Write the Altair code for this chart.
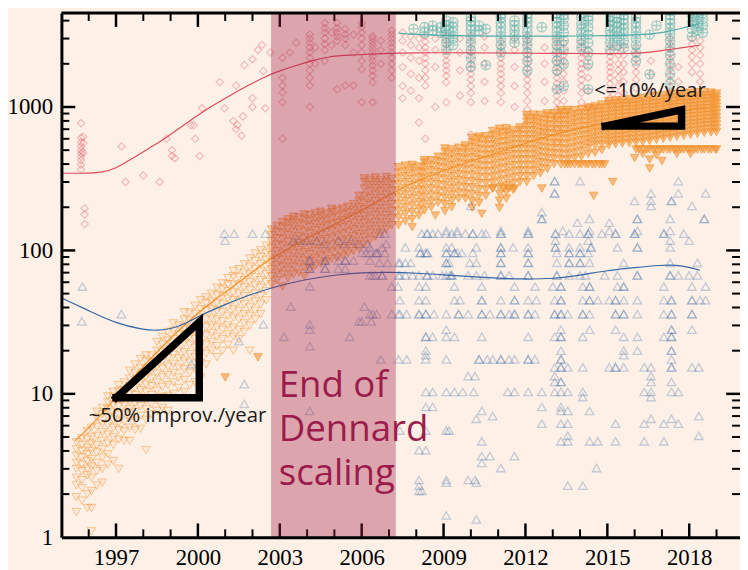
import altair as alt
import pandas as pd

# ---------------- axis values ----------------
X_LABELS = [1997, 2000, 2003, 2006, 2009, 2012, 2015, 2018]
X_MINOR = [1996, 1998, 1999, 2001, 2002, 2004, 2005, 2007, 2008, 2010, 2011,
           2013, 2014, 2016, 2017, 2019]
Y_LABELS = [1, 10, 100, 1000]
Y_MAJOR_TICKS = [10, 100, 1000]
Y_MINOR = [2, 3, 4, 5, 6, 7, 8, 9, 20, 30, 40, 50, 60, 70, 80, 90,
           200, 300, 400, 500, 600, 700, 800, 900, 2000, 3000, 4000]

DENNARD_START = [2002.68]
DENNARD_END = [2007.25]

# ---------------- red diamonds (columns: year, values) ----------------
RED_EARLY = [
    (1995.72, [366, 395, 425, 450, 475, 500, 530, 565, 610, 770]),
    (1995.8, [480, 560, 620]),
    (1995.85, [153, 178, 197]),
]
RED_SCATTER_X = [1997.2, 1997.35, 1998.0, 1998.6, 1998.85, 1999.05, 1999.05, 1999.15,
                 1999.75, 1999.85, 1999.9, 2000.07, 2000.15, 2000.8, 2000.97, 2001.3,
                 2001.4, 2001.45, 2001.6, 2001.65, 2001.4, 2001.7, 2002.0, 2002.2,
                 2002.35, 2002.4, 2002.0, 2002.0, 2002.47, 2002.65]
RED_SCATTER_Y = [531, 300, 333, 300, 600, 500, 455, 440,
                 745, 745, 600, 455, 980, 1490, 980, 800,
                 700, 750, 630, 860, 1410, 1960, 2150, 2500,
                 2700, 1780, 1150, 1000, 980, 2400]
RED_LATE = [
    (2003.1, [600, 1080, 1260, 1410, 1600, 2200]),
    (2003.37, [2400]),
    (2003.6, [2800]),
    (2004.1, [1000, 1410, 1600, 1800, 2000, 2200, 2400, 2600, 2800, 3000, 3200]),
    (2004.3, [2000, 2600]),
    (2004.65, [2100, 2500, 2750, 3000, 3300, 3550, 3850]),
    (2004.9, [2700, 3300]),
    (2005.1, [1330, 2900, 3100, 3300, 3550, 3850]),
    (2005.4, [1410, 2700, 3000, 3200, 3500]),
    (2005.7, [1410, 2400, 3200]),
    (2006.0, [1080, 1830, 2100, 2400, 2700, 3000, 3300, 3600, 3850]),
    (2006.4, [1080, 1490, 1650, 1800, 1950, 2100, 2250, 2400, 2550, 2700, 2850, 3000, 3130]),
    (2006.7, [2000, 2500, 2900]),
    (2007.1, [1600, 1800, 2000, 2200, 2400, 2600, 2800, 3000, 3200, 3400]),
    (2007.5, [1150, 1400, 1900, 2400, 2900, 3300]),
    (2007.8, [1300, 1700, 2200, 2700, 3100]),
    (2008.1, [780, 1150, 1600, 2100, 2600, 3000]),
    (2008.33, [600, 1410, 1600, 1800, 2000, 2200, 2400, 2600, 2850, 3130]),
    (2008.7, [1000, 1900, 2500, 3000]),
    (2009.1, [1080, 1490, 1650, 1800, 1950, 2100, 2300, 2500, 2700, 2900, 3130]),
    (2009.6, [1200, 1800, 2400, 3000]),
    (2010.0, [640, 1080, 1250, 1400, 1550, 1700, 1850, 2000, 2200, 2400, 2600, 2850, 3130]),
    (2010.5, [1100, 1500, 2000, 2600, 3100]),
    (2011.1, [1080, 1250, 1400, 1550, 1700, 1850, 2000, 2200, 2400, 2600, 2850]),
    (2011.6, [1000, 1400, 1900, 2500, 3000]),
    (2012.07, [960, 1100, 1250, 1400, 1550, 1700, 1850, 2000, 2150, 2300, 2500, 2700, 2900, 3130]),
    (2012.7, [700, 1100, 1500, 2000, 2600]),
    (2013.15, [570, 700, 850, 960, 1080, 1200, 1330, 1460, 1600, 1750, 1900, 2050, 2200, 2400, 2600, 2800, 3000]),
    (2013.4, [900, 1100, 1300, 1500, 1700, 1900, 2100, 2300, 2500, 2800]),
    (2014.05, [1080, 1250, 1400, 1550, 1700, 1850, 2000, 2200, 2400, 2600, 2850]),
    (2014.3, [1000, 1300, 1600, 1900, 2200, 2500]),
    (2015.1, [1150, 1300, 1450, 1600, 1750, 1900, 2050, 2250, 2450, 2650]),
    (2015.4, [1200, 1400, 1600, 1800, 2000, 2300, 2600]),
    (2015.6, [1250, 1500, 1750, 2000, 2300, 2650]),
    (2016.05, [1350, 1550, 1750, 1950, 2150, 2350, 2600]),
    (2016.6, [1300, 1700, 2100]),
    (2017.3, [1080, 1230, 1380, 1530, 1680, 1830, 1980, 2150, 2350, 2550, 2750, 3000]),
    (2017.6, [1200, 1500, 1900]),
    (2018.1, [1750, 2000, 2250, 2500, 2750, 3000]),
    (2018.4, [1500, 1700, 2000, 2300, 2600, 2900]),
]

# ---------------- teal circles-with-plus ----------------
TEAL_COLS = [
    (2007.9, [3500]), (2008.3, [3300, 3600]), (2008.6, [3400, 3700]), (2008.9, [3300, 3600]),
    (2009.1, [2500, 2800, 3100, 3400, 3700, 4000]),
    (2009.35, [2700, 3000, 3300, 3600, 3900]),
    (2010.0, [1900, 2200, 2500, 2800, 3100, 3400, 3700, 4000, 4200]),
    (2010.3, [3400, 3700]), (2010.55, [1960, 3500]),
    (2011.1, [2400, 2700, 3000, 3300, 3600, 3900, 4200, 4400]),
    (2011.6, [2800, 3100, 3400, 3700, 4000]),
    (2012.07, [1800, 2100, 2400, 2700, 3000, 3300, 3600, 3900, 4200, 4500]),
    (2012.6, [3600]),
    (2013.15, [1330, 1800, 2100, 2400, 2700, 3000, 3300, 3600, 3900, 4200, 4500]),
    (2013.4, [1400, 2000, 2500, 2900, 3300, 3700, 4100, 4400]),
    (2014.05, [2600, 2900, 3200, 3500, 3800, 4200, 4500]),
    (2014.3, [1330, 2000, 2400, 2800, 3200, 3600, 4000, 4300]),
    (2015.1, [2500, 2800, 3100, 3400, 3700, 4000, 4300]),
    (2015.35, [2700, 3000, 3300, 3600, 3900, 4200]),
    (2015.6, [2600, 2900, 3200, 3500, 3800, 4100, 4400]),
    (2016.05, [2100, 2400, 2700, 3000, 3300, 3600, 3900, 4200]),
    (2016.55, [1690, 3200]), (2016.8, [3700]),
    (2017.3, [1450, 1700, 2000, 2300, 2600, 2900, 3200, 3500, 3800, 4100, 4400, 4700]),
    (2018.1, [3100, 3500, 3900, 4300, 4700]),
    (2018.3, [3400, 3800, 4200, 4600, 4900]),
    (2018.5, [3300, 3700, 4100, 4500, 4900]),
]

# ---------------- orange downward triangles ----------------
ORANGE_EARLY = [
    (1995.55, [1.5, 1.9, 2.3, 2.6, 3.0, 3.3, 3.7, 4.1, 4.6]),
    (1995.75, [1.8, 2.2, 2.5, 2.9, 3.2, 3.6, 4.0, 4.4, 4.9]),
    (1995.95, [1.6, 2.0, 2.7, 3.0, 3.4, 3.8, 4.2, 4.8, 5.5]),
    (1996.1, [1.1, 1.6, 2.1, 2.6, 3.1, 3.5, 4.0, 4.5, 5.0, 5.8]),
    (1996.3, [2.3, 2.9, 3.3, 3.9, 4.4, 5.1, 5.9, 6.8, 7.5]),
    (1996.5, [2.4, 3.0, 3.6, 4.1, 4.7, 5.4, 6.2, 7.2, 8.0]),
    (1996.7, [3.2, 3.8, 4.5, 5.2, 6.0, 6.9, 7.8, 8.8, 9.6]),
    (1996.9, [3.4, 4.4, 5.0, 5.8, 6.6, 7.4, 8.4, 9.5, 10.3]),
    (1997.1, [3.0, 4.8, 5.6, 6.3, 7.2, 8.2, 9.2, 10.5, 11.5]),
    (1997.3, [4.7, 5.5, 6.4, 7.3, 8.3, 9.4, 10.6, 12.0]),
    (1997.5, [4.7, 5.8, 6.8, 7.8, 8.9, 10.0, 11.3, 12.8, 14.5]),
    (1997.7, [5.6, 6.5, 7.5, 8.6, 9.8, 11.0, 12.4, 14.0, 16.0]),
    (1997.9, [5.7, 7.0, 8.2, 9.4, 10.6, 12.0, 13.5, 15.2, 17.5]),
    (1998.1, [4.05, 6.6, 7.8, 9.0, 10.3, 11.6, 13.2, 15.0, 17.0, 18.5]),
    (1998.3, [7.2, 8.5, 9.8, 11.3, 12.8, 14.5, 16.5, 18.5]),
    (1998.5, [7.6, 9.0, 10.5, 12.0, 13.8, 15.6, 17.8, 20.0, 23.0]),
    (1998.7, [8.0, 9.5, 11.2, 13.0, 15.0, 17.0, 19.5, 22.0, 25.0]),
    (1998.9, [7.6, 9.7, 11.5, 13.5, 15.5, 17.8, 20.5, 23.5, 27.0]),
    (1999.1, [10.0, 12.0, 14.0, 16.2, 18.6, 21.2, 24.0, 27.5, 31.0]),
    (1999.3, [11.0, 13.0, 15.2, 17.6, 20.0, 23.0, 26.0, 30.0]),
    (1999.5, [10.3, 12.5, 14.8, 17.0, 19.5, 22.5, 25.5, 29.0, 33.0, 37.0]),
    (1999.7, [11.5, 14.0, 16.5, 19.0, 22.0, 25.0, 28.5, 32.5, 37.0]),
    (1999.9, [12.0, 15.0, 18.0, 21.0, 24.0, 27.5, 31.5, 36.0, 41.0]),
    (2000.1, [13.0, 16.5, 19.5, 22.5, 26.0, 30.0, 34.0, 39.0, 45.0]),
    (2000.3, [16.0, 19.0, 22.0, 25.5, 29.0, 33.0, 38.0, 43.0, 47.0]),
    (2000.5, [20.0, 23.0, 26.5, 30.0, 34.0, 39.0, 44.0, 50.0]),
    (2000.7, [18.0, 21.5, 25.0, 29.0, 33.0, 38.0, 43.0, 49.0, 55.0]),
    (2000.9, [20.0, 24.0, 28.0, 32.0, 37.0, 42.0, 48.0, 54.0, 59.0]),
    (2001.1, [22.0, 26.0, 30.0, 35.0, 40.0, 46.0, 52.0, 58.0, 64.0]),
    (2001.3, [20.0, 25.0, 29.0, 34.0, 39.0, 45.0, 51.0, 58.0, 66.0, 72.0]),
    (2001.5, [24.0, 28.0, 33.0, 38.0, 44.0, 50.0, 57.0, 65.0, 74.0]),
    (2001.7, [27.0, 31.0, 36.0, 42.0, 48.0, 55.0, 62.0, 70.0, 80.0]),
    (2001.9, [20.0, 30.0, 35.0, 40.0, 46.0, 53.0, 60.0, 68.0, 77.0, 88.0]),
    (2002.1, [33.0, 38.0, 44.0, 50.0, 57.0, 65.0, 74.0, 84.0, 95.0]),
    (2002.3, [36.0, 42.0, 48.0, 55.0, 62.0, 71.0, 80.0, 90.0, 100.0]),
    (2002.5, [45.0, 52.0, 60.0, 68.0, 77.0, 86.0, 96.0, 108.0]),
]
ORANGE_MID = [
    (2002.7, [58, 66, 74, 83, 93, 104, 116, 128, 140]),
    (2002.9, [62, 70, 79, 88, 99, 110, 122, 135, 148]),
    (2003.1, [56, 68, 77, 86, 96, 108, 120, 133, 146, 158]),
    (2003.3, [64, 73, 82, 92, 103, 115, 128, 142, 156, 165]),
    (2003.5, [68, 77, 86, 96, 108, 120, 134, 148, 162, 172]),
    (2003.7, [70, 80, 90, 101, 113, 126, 140, 155, 170]),
    (2003.9, [66, 76, 86, 97, 109, 122, 136, 151, 166, 178]),
    (2004.1, [74, 84, 94, 106, 118, 132, 146, 161, 176]),
    (2004.3, [78, 88, 99, 111, 124, 138, 153, 168, 182]),
    (2004.5, [81, 92, 103, 116, 129, 144, 159, 174, 186]),
    (2004.7, [84, 95, 107, 120, 134, 149, 164, 180]),
    (2004.9, [87, 98, 110, 123, 138, 153, 169, 185, 195]),
    (2005.1, [89, 101, 113, 127, 142, 157, 173, 190]),
    (2005.3, [92, 104, 117, 131, 146, 162, 179, 196]),
    (2005.5, [95, 107, 120, 135, 150, 167, 184, 202]),
    (2005.7, [99, 111, 125, 140, 156, 173, 191, 210]),
    (2005.9, [103, 116, 130, 146, 163, 181, 200, 222, 240]),
    (2006.1, [110, 124, 139, 156, 174, 194, 215, 240, 270, 300, 318]),
    (2006.3, [118, 132, 148, 166, 186, 208, 232, 258, 285, 310]),
    (2006.5, [125, 140, 157, 176, 197, 220, 245, 272, 300, 322]),
    (2006.7, [132, 148, 166, 186, 208, 232, 258, 285, 310]),
    (2006.9, [140, 157, 176, 197, 220, 245, 272, 300, 325]),
    (2007.1, [150, 168, 188, 210, 234, 260, 288, 315]),
]
ORANGE_LATE = [
    (2007.35, [150, 170, 190, 212, 236, 262, 290, 320, 350, 380]),
    (2007.6, [160, 180, 200, 222, 246, 272, 300, 330, 360, 390]),
    (2007.85, [145, 165, 186, 208, 232, 258, 286, 316, 346, 375, 395]),
    (2008.1, [175, 196, 218, 242, 268, 296, 326, 356, 385]),
    (2008.3, [190, 212, 236, 262, 290, 320, 350, 380, 410, 425]),
    (2008.55, [200, 222, 246, 272, 300, 330, 362, 395, 425]),
    (2008.8, [215, 238, 263, 290, 320, 352, 385, 420, 450]),
    (2009.05, [188, 210, 233, 258, 285, 314, 345, 378, 412, 448, 485, 514]),
    (2009.3, [200, 222, 246, 272, 300, 330, 362, 396, 432, 470, 505]),
    (2009.55, [230, 255, 282, 311, 342, 375, 410, 446, 484, 520]),
    (2009.8, [250, 276, 304, 334, 366, 400, 436, 474, 512, 540]),
    (2010.05, [198, 222, 248, 276, 306, 338, 372, 408, 446, 486, 528, 570, 610]),
    (2010.3, [215, 240, 267, 296, 327, 360, 395, 432, 471, 512, 555, 600, 621]),
    (2010.55, [240, 266, 294, 324, 356, 390, 426, 464, 504, 546, 590, 625]),
    (2010.8, [270, 298, 328, 360, 394, 430, 468, 508, 550, 594, 640, 680]),
    (2011.05, [198, 222, 248, 276, 306, 338, 372, 408, 446, 486, 528, 572, 618, 665, 705]),
    (2011.3, [230, 256, 284, 314, 346, 380, 416, 454, 494, 536, 580, 626, 672, 710]),
    (2011.55, [265, 294, 325, 358, 393, 430, 469, 510, 553, 598, 645, 690]),
    (2011.8, [300, 330, 362, 396, 432, 470, 510, 552, 596, 642, 690, 720]),
    (2012.05, [300, 330, 362, 396, 432, 470, 510, 552, 596, 642, 690, 740, 790, 840, 880]),
    (2012.3, [330, 362, 396, 432, 470, 510, 552, 596, 642, 690, 740, 790, 840, 885]),
    (2012.55, [345, 378, 413, 450, 490, 532, 576, 622, 670, 720, 772, 826, 880]),
    (2012.8, [370, 405, 442, 481, 522, 565, 610, 657, 706, 757, 810, 865, 900]),
    (2013.05, [400, 437, 476, 517, 560, 605, 652, 701, 752, 805, 860, 905]),
    (2013.3, [398, 435, 474, 515, 558, 603, 650, 699, 750, 803, 858, 915, 950]),
    (2013.55, [398, 430, 470, 512, 556, 602, 650, 700, 752, 806, 862, 920, 955]),
    (2013.8, [398, 440, 482, 526, 572, 620, 670, 722, 776, 832, 890, 950]),
    (2014.05, [398, 450, 495, 540, 587, 636, 687, 740, 795, 852, 911, 965]),
    (2014.3, [398, 470, 520, 560, 600, 645, 692, 741, 792, 845, 900, 957, 990]),
    (2014.55, [398, 480, 540, 580, 620, 665, 712, 761, 812, 865, 920, 977, 1010]),
    (2014.8, [398, 500, 550, 590, 632, 677, 724, 773, 824, 877, 932, 989, 1040]),
    (2015.05, [540, 575, 612, 652, 695, 740, 787, 836, 887, 940, 995, 1050, 1100]),
    (2015.3, [550, 585, 622, 662, 705, 750, 797, 846, 897, 950, 1005, 1062, 1110]),
    (2015.55, [556, 592, 630, 670, 713, 758, 805, 854, 905, 958, 1013, 1070, 1117]),
    (2015.8, [560, 597, 636, 677, 720, 765, 812, 861, 912, 965, 1020, 1077, 1130]),
    (2016.05, [505, 565, 603, 642, 683, 726, 771, 818, 867, 918, 971, 1026, 1083, 1140]),
    (2016.3, [470, 505, 570, 610, 650, 692, 736, 782, 830, 880, 932, 986, 1042, 1100, 1160]),
    (2016.55, [373, 430, 505, 580, 620, 660, 702, 746, 792, 840, 890, 942, 996, 1052, 1110, 1180]),
    (2016.8, [460, 505, 590, 630, 670, 712, 756, 802, 850, 900, 952, 1006, 1062, 1120, 1200]),
    (2017.05, [505, 600, 640, 681, 724, 769, 816, 865, 916, 969, 1024, 1081, 1140, 1210]),
    (2017.3, [505, 610, 650, 692, 736, 782, 830, 880, 932, 986, 1042, 1100, 1160, 1230]),
    (2017.55, [470, 505, 620, 660, 702, 746, 792, 840, 890, 942, 996, 1052, 1110, 1170, 1240]),
    (2017.8, [505, 630, 670, 712, 756, 802, 850, 900, 952, 1006, 1062, 1120, 1180, 1250]),
    (2018.05, [470, 505, 640, 680, 722, 766, 812, 860, 910, 962, 1016, 1072, 1130, 1190, 1260]),
    (2018.3, [505, 650, 690, 732, 776, 822, 870, 920, 972, 1026, 1082, 1140, 1200, 1268]),
    (2018.55, [505, 660, 700, 742, 786, 832, 880, 930, 982, 1036, 1092, 1150, 1210, 1270]),
    (2018.8, [505, 665, 705, 747, 791, 837, 885, 935, 987, 1041, 1097, 1155, 1215, 1260]),
    (2019.0, [505, 670, 712, 756, 802, 850, 900, 952, 1006, 1062, 1120, 1180, 1240]),
]
ORANGE_ROW_X = [2013.45, 2013.65, 2013.95, 2014.2, 2014.45, 2014.7, 2014.9,
                2016.15, 2016.45, 2016.7, 2016.95, 2017.2, 2017.45, 2017.7, 2017.95,
                2018.2, 2018.45, 2018.7, 2018.95]
ORANGE_ROW_Y = [398, 398, 398, 398, 398, 398, 398,
                505, 505, 505, 505, 505, 505, 505, 505,
                505, 505, 505, 505]
ORANGE_OUT_X = [2012.6, 2011.2, 2011.4, 2011.6, 2010.8, 2014.5, 2015.2, 2017.0,
                2016.0, 2009.8, 2008.7, 2010.4, 2002.2, 2001.0]
ORANGE_OUT_Y = [270, 270, 270, 270, 270, 240, 300, 420,
                440, 230, 175, 180, 18, 13]

# ---------------- blue upward triangles (rows: value, years) ----------------
BLUE_ROWS = [
    (304, [2013.07, 2014.0, 2017.6]),
    (250, [2013.07, 2016.6, 2017.6, 2018.6]),
    (221, [2016.0, 2016.6, 2017.35]),
    (204, [2010.0, 2016.6, 2018.1]),
    (185, [2012.6]),
    (166, [2012.6, 2014.35, 2016.1, 2017.3, 2018.55]),
    (156, [2013.9, 2015.07]),
    (137, [2009.1, 2009.5, 2011.1, 2012.1, 2013.37, 2014.35, 2015.07, 2016.1, 2017.3]),
    (131, [2000.97, 2001.33, 2002.0, 2002.47, 2006.67, 2006.85, 2008.2, 2008.4, 2008.6, 2008.8,
           2009.1, 2009.3, 2009.5, 2009.8, 2010.07, 2010.4, 2010.55, 2011.1, 2012.1, 2013.1,
           2013.6, 2014.0, 2014.3, 2014.8, 2015.3, 2016.0, 2017.07, 2017.8]),
    (117, [2001.0, 2003.5, 2003.7, 2004.0, 2004.35, 2005.15, 2005.6, 2013.1, 2014.3, 2017.3, 2018.0]),
    (111, [2004.64, 2005.36, 2005.9, 2006.2, 2006.9]),
    (105, [2006.3, 2006.75, 2007.6, 2008.1, 2009.1, 2009.3, 2010.2, 2011.1, 2011.55, 2012.1,
           2013.1, 2013.6, 2014.0, 2014.4, 2015.37, 2016.1, 2017.3]),
    (96, [2006.0, 2006.16, 2006.3, 2006.53, 2006.6, 2006.85, 2008.15, 2008.33, 2008.4, 2009.1,
          2009.4, 2009.5, 2009.67, 2010.07, 2011.1, 2012.1, 2013.15, 2013.6, 2014.0, 2014.3]),
    (85, [2004.1, 2004.66, 2005.14, 2005.4, 2005.7, 2006.3]),
    (82, [2006.65, 2006.95, 2007.35, 2007.4, 2007.6, 2007.8, 2009.1, 2009.2, 2009.96, 2010.2,
          2011.1, 2012.1, 2013.15, 2013.6, 2014.0, 2014.35, 2015.6, 2017.3, 2018.3]),
    (74.5, [2004.1, 2004.66, 2005.14, 2005.4]),
    (67, [2006.3, 2006.4, 2006.5, 2006.75, 2007.35, 2007.4, 2007.6, 2007.86, 2008.1, 2008.4,
          2008.6, 2008.95, 2009.1, 2009.24, 2009.3, 2009.9, 2010.2, 2010.5, 2011.1, 2011.4,
          2012.1, 2013.15, 2013.6, 2014.0, 2014.2, 2014.9, 2015.37, 2016.1, 2017.3, 2017.6,
          2018.0, 2018.3]),
    (56, [1995.77, 2004.1, 2007.1, 2007.33, 2008.1, 2008.35, 2009.4, 2010.4, 2011.6, 2012.35,
          2013.0, 2013.3, 2014.1, 2014.35, 2015.37, 2015.6, 2017.07, 2018.1, 2018.6]),
    (45, [2007.4, 2008.1, 2008.35, 2009.4, 2009.6, 2010.4, 2011.1, 2011.6, 2012.1, 2012.4,
          2013.07, 2013.3, 2014.1, 2014.35, 2014.65, 2015.07, 2015.3, 2015.6, 2016.1, 2017.07,
          2017.35, 2018.1, 2018.4, 2018.6]),
    (40.5, [2003.4, 2006.1]),
    (36, [1997.2, 2006.3, 2006.4, 2006.55, 2007.1, 2007.35, 2007.4, 2007.65, 2008.1, 2008.35,
          2008.65, 2009.1, 2009.55, 2009.9, 2010.4, 2010.7, 2011.1, 2011.4, 2011.6, 2012.1,
          2012.35, 2013.07, 2013.3, 2013.55, 2014.1, 2014.35, 2015.3, 2015.6, 2016.1, 2017.07,
          2017.35, 2018.1]),
    (32, [1995.75, 2005.9, 2006.0, 2006.35]),
    (30.5, [2002.4, 2004.1]),
    (28, [2004.1, 2009.1, 2013.3, 2014.35, 2015.3, 2017.35, 2018.1]),
    (25, [2003.15, 2005.56, 2008.35, 2008.6, 2009.1, 2009.4, 2010.4, 2012.1, 2013.07, 2013.3,
          2014.1, 2015.6, 2016.1, 2017.07, 2017.35]),
    (23.3, [2001.5]),
    (21.5, [2004.1]),
    (20, [2008.35, 2013.3, 2015.6, 2016.1, 2017.35]),
    (18.6, [2008.35, 2015.6]),
    (17.4, [2006.7, 2007.35, 2007.65, 2008.35, 2009.1, 2010.3, 2010.6, 2010.8, 2011.1, 2011.4,
            2011.6, 2012.1, 2012.35, 2013.3, 2017.35]),
    (16.1, [1999.76]),
    (15.3, [2013.07, 2013.3, 2013.55, 2014.1, 2015.07, 2015.3, 2015.6, 2016.35, 2016.6, 2017.35,
            2018.1, 2018.35]),
    (13.3, [2009.9, 2010.15, 2013.07, 2016.6]),
    (12.1, [2013.07, 2013.3, 2016.6, 2017.35]),
    (11.7, [2001.7]),
    (10.3, [2008.35, 2008.6, 2009.1, 2009.4, 2009.7, 2010.1, 2011.35, 2011.6, 2012.1, 2012.6,
            2013.07, 2013.3, 2013.55, 2014.1, 2016.35, 2016.6, 2017.35, 2017.6]),
    (9.5, [2014.1, 2016.6]),
    (8.5, [2001.7]),
    (8.1, [2008.35, 2008.6, 2012.6, 2013.3]),
    (7.6, [2004.1, 2010.4, 2013.3, 2013.55, 2014.35]),
    (7.0, [2010.8, 2018.35]),
    (6.7, [2010.2, 2016.6, 2017.35]),
    (6.2, [2012.6, 2013.3, 2013.55, 2015.3, 2016.35, 2017.07, 2017.6]),
    (5.55, [2007.4, 2008.35, 2009.1, 2009.2]),
    (5.1, [2013.55, 2018.35]),
    (4.67, [2010.4, 2013.3, 2013.55, 2014.35, 2014.65, 2015.3, 2016.35, 2017.07]),
    (4.05, [2008.1, 2008.35]),
    (3.68, [2010.4, 2010.7, 2011.6]),
    (3.3, [2010.4]),
    (3.04, [2011.1, 2014.6]),
    (2.51, [2008.1, 2009.1, 2009.9, 2010.15]),
    (2.4, [2009.1, 2010.2]),
    (2.29, [2008.1, 2013.55, 2014.1]),
    (2.11, [2008.1, 2008.2]),
    (1.42, [2009.1]),
    (1.33, [2010.2]),
]
# points that occur several times (they overlap and look darker)
BLUE_REPEAT = [
    (2008.4, 131), (2010.07, 131), (2011.1, 131), (2012.1, 131), (2013.1, 131), (2014.3, 131),
    (2015.3, 131), (2016.0, 131), (2017.07, 131),
    (2008.15, 96), (2008.4, 96), (2009.1, 96), (2009.4, 96), (2011.1, 96), (2012.1, 96),
    (2013.6, 96), (2014.0, 96), (2006.53, 96),
    (2009.1, 82), (2011.1, 82), (2012.1, 82), (2013.6, 82), (2014.0, 82),
    (2006.75, 67), (2008.4, 67), (2009.3, 67), (2011.1, 67), (2012.1, 67), (2013.15, 67),
    (2016.1, 67), (2017.3, 67),
    (2011.1, 105), (2013.1, 105), (2014.4, 105), (2016.1, 105),
    (2004.1, 85), (2004.66, 85), (2005.4, 85), (2004.1, 74.5), (2004.66, 74.5),
    (2013.3, 56), (2014.35, 56), (2015.6, 56), (2010.4, 45), (2011.6, 45), (2013.3, 45),
    (2014.35, 45), (2015.3, 45), (2018.1, 45), (2017.35, 45),
    (2008.1, 36), (2008.35, 36), (2009.55, 36), (2010.4, 36), (2011.1, 36), (2011.6, 36),
    (2012.1, 36), (2013.07, 36), (2013.3, 36), (2014.1, 36), (2015.3, 36), (2015.6, 36),
    (2018.1, 36), (2017.35, 36), (2017.35, 28), (2017.35, 25), (2017.35, 20),
    (2008.35, 25), (2013.3, 25), (2010.3, 17.4), (2011.1, 17.4), (2012.1, 17.4), (2013.3, 17.4),
    (2013.3, 15.3), (2015.3, 15.3), (2017.35, 15.3), (2013.3, 12.1),
    (2013.07, 304), (2013.07, 250), (2017.35, 221), (2012.6, 166), (2016.1, 166), (2018.55, 166),
]

# ---------------- trend lines ----------------
RED_LINE_X = [1995, 1995.5, 1996, 1996.5, 1997, 1997.6, 1998.2, 1998.8, 1999.4, 2000, 2000.6,
              2001.2, 2001.8, 2002.4, 2003, 2003.6, 2004.2, 2004.8, 2005.4, 2006, 2007, 2008,
              2009, 2010, 2011, 2012, 2013, 2014, 2015, 2015.8, 2016.5, 2017, 2017.7, 2018.37]
RED_LINE_Y = [345, 345, 345, 350, 372, 438, 515, 602, 730, 880, 1040,
              1210, 1400, 1610, 1790, 1950, 2110, 2248, 2290, 2320, 2370, 2390,
              2390, 2385, 2380, 2370, 2365, 2360, 2355, 2350, 2400, 2475, 2580, 2690]
TEAL_LINE_X = [2007.35, 2008, 2009, 2010, 2011, 2012, 2013, 2014, 2015, 2015.8, 2016.5,
               2017, 2017.7, 2018.37]
TEAL_LINE_Y = [3275, 3200, 3150, 3130, 3120, 3120, 3120, 3125, 3140, 3165, 3220,
               3290, 3520, 3815]
ORANGE_LINE_X = [1995.5, 1996, 1996.5, 1997, 1997.5, 1998, 1998.5, 1999, 1999.5, 2000, 2000.5,
                 2001, 2001.5, 2002, 2002.6, 2003, 2004, 2005, 2006, 2007, 2008, 2009, 2010,
                 2011, 2012, 2013, 2014, 2015, 2016, 2017, 2018, 2018.6]
ORANGE_LINE_Y = [4.7, 5.8, 7.3, 9.5, 12.2, 15.5, 19.6, 24.5, 30, 36.6, 43.5,
                 51, 60, 71, 86, 95, 122, 152, 190, 245, 305, 360, 420,
                 480, 560, 640, 710, 780, 845, 900, 955, 990]
BLUE_LINE_X = [1995, 1996, 1997, 1998, 1998.5, 1999, 1999.5, 2000, 2001, 2002, 2003, 2004,
               2005, 2006, 2007, 2008, 2009, 2010, 2011, 2012, 2013, 2014, 2015, 2016, 2017,
               2017.5, 2018, 2018.4]
BLUE_LINE_Y = [46.7, 38, 31, 28, 27.6, 28.3, 30.5, 34.7, 42, 50, 57, 63,
               67.5, 70, 70.5, 69.5, 67.5, 65.5, 64, 63, 63.5, 67, 72.5, 76, 79,
               79, 76.5, 72.7]

# ---------------- annotations ----------------
TRI_FAST_X = [1997.0, 2000.05, 2000.05, 1997.0]
TRI_FAST_Y = [9.4, 9.4, 31.7, 9.4]
TRI_SLOW_X = [2014.92, 2017.72, 2017.72, 2014.92]
TRI_SLOW_Y = [735, 735, 955, 735]
NOTE_TEXT = ["~50% improv./year", "<=10%/year"]
NOTE_X = [1996.0, 2014.52]
NOTE_Y = [6.4, 1172]
DENNARD_TEXT = ["End of\nDennard\nscaling"]
DENNARD_X = [2002.96]
DENNARD_Y = [9.53]

# ---------------- styling ----------------
BG = "#fdf0e6"
RED = "#de4a5c"
TEAL = "#4fada7"
ORANGE = "#f2902a"
BLUE = "#3567a6"
CRIMSON = "#a01e46"
TEXTRED = "#9b1b4b"
SERIF = "Liberation Serif, Times New Roman, serif"

W, H = 686, 530
XS = alt.Scale(domain=[1995, 2019.86], nice=False, zero=False)
YS = alt.Scale(type="log", domain=[1, 4520], nice=False)
XAX = alt.Axis(values=X_LABELS, format="d", title=None, ticks=False, tickSize=0,
               domain=True, domainWidth=3, domainColor="black", grid=False,
               labelFont=SERIF, labelFontSize=23, labelColor="black", labelFontWeight="normal",
               labelPadding=10, labelFlush=False, labelOverlap=False, zindex=1)
YAX = alt.Axis(values=Y_LABELS, format="d", title=None, ticks=False, tickSize=0,
               domain=True, domainWidth=3, domainColor="black", grid=False,
               labelFont=SERIF, labelFontSize=23, labelColor="black", labelFontWeight="normal",
               labelPadding=9, labelFlush=False, labelOverlap=False, zindex=1)


def X(f="x"):
    return alt.X(f"{f}:Q", scale=XS, axis=XAX)


def Y(f="y"):
    return alt.Y(f"{f}:Q", scale=YS, axis=YAX)


def cols(c):
    return pd.DataFrame([(x, y) for x, ys in c for y in ys], columns=["x", "y"])


red_df = pd.concat([cols(RED_EARLY), pd.DataFrame({"x": RED_SCATTER_X, "y": RED_SCATTER_Y}),
                    cols(RED_LATE)])
teal_df = cols(TEAL_COLS)
orange_early_df = cols(ORANGE_EARLY)
orange_mid_df = cols(ORANGE_MID)
orange_late_df = pd.concat([cols(ORANGE_LATE),
                            pd.DataFrame({"x": ORANGE_ROW_X, "y": ORANGE_ROW_Y}),
                            pd.DataFrame({"x": ORANGE_OUT_X, "y": ORANGE_OUT_Y})])
blue_df = pd.concat([
    pd.DataFrame([(x, y) for y, xs in BLUE_ROWS for x in xs], columns=["x", "y"]),
    pd.DataFrame(BLUE_REPEAT, columns=["x", "y"]),
])

layers = []

layers.append(alt.Chart(red_df).mark_point(shape="diamond", size=55, filled=False, color=RED,
                                            opacity=0.32, strokeWidth=1.2, clip=True)
              .encode(x=X(), y=Y()))
CIRCLE_PLUS = "M-1,0A1,1,0,1,1,1,0A1,1,0,1,1,-1,0ZM-1,0L1,0M0,-1L0,1"
layers.append(alt.Chart(teal_df).mark_point(shape=CIRCLE_PLUS, size=90, filled=False, color=TEAL,
                                             opacity=0.5, strokeWidth=1.3, clip=True)
              .encode(x=X(), y=Y()))
for df, fo, so in [(orange_early_df, 0.06, 0.45), (orange_mid_df, 0.33, 0.55),
                   (orange_late_df, 0.55, 0.6)]:
    layers.append(alt.Chart(df).mark_point(shape="triangle-down", size=75, filled=True,
                                           fill=ORANGE, fillOpacity=fo, stroke=ORANGE,
                                           strokeOpacity=so, strokeWidth=1, clip=True)
                  .encode(x=X(), y=Y()))
layers.append(alt.Chart(blue_df).mark_point(shape="triangle-up", size=75, filled=False, color=BLUE,
                                             opacity=0.28, strokeWidth=1.3, clip=True)
              .encode(x=X(), y=Y()))

for lx, ly, c in [(RED_LINE_X, RED_LINE_Y, RED), (TEAL_LINE_X, TEAL_LINE_Y, TEAL),
                  (ORANGE_LINE_X, ORANGE_LINE_Y, ORANGE), (BLUE_LINE_X, BLUE_LINE_Y, BLUE)]:
    layers.append(alt.Chart(pd.DataFrame({"x": lx, "y": ly}))
                  .mark_line(color=c, strokeWidth=1.2, interpolate="basis", clip=True)
                  .encode(x=X(), y=Y()))

# tick marks (pointing inward on all four sides)
maj_x = pd.DataFrame({"x": X_LABELS})
min_x = pd.DataFrame({"x": X_MINOR})
maj_y = pd.DataFrame({"y": Y_MAJOR_TICKS})
min_y = pd.DataFrame({"y": Y_MINOR})
for df, ln, sw in [(maj_x, 14, 2.5), (min_x, 8, 2)]:
    layers.append(alt.Chart(df).mark_rule(color="black", strokeWidth=sw)
                  .encode(x=X(), y=alt.value(H), y2=alt.value(H - ln)))
    layers.append(alt.Chart(df).mark_rule(color="black", strokeWidth=sw)
                  .encode(x=X(), y=alt.value(0), y2=alt.value(ln)))
for df, ln, sw in [(maj_y, 14, 2.5), (min_y, 8, 2)]:
    layers.append(alt.Chart(df).mark_rule(color="black", strokeWidth=sw)
                  .encode(y=Y(), x=alt.value(0), x2=alt.value(ln)))
    layers.append(alt.Chart(df).mark_rule(color="black", strokeWidth=sw)
                  .encode(y=Y(), x=alt.value(W), x2=alt.value(W - ln)))

# shaded "end of Dennard scaling" band (drawn over the points)
layers.append(alt.Chart(pd.DataFrame({"x": DENNARD_START, "x2": DENNARD_END}))
              .mark_rect(color=CRIMSON, opacity=0.36)
              .encode(x=X(), x2="x2:Q", y=alt.value(0), y2=alt.value(H)))

# top frame line
layers.append(alt.Chart(pd.DataFrame({"a": [0]})).mark_rule(color="black", strokeWidth=3)
              .encode(x=alt.value(0), x2=alt.value(W), y=alt.value(0)))

# annotation triangles
tri_df = pd.DataFrame({
    "x": TRI_FAST_X + TRI_SLOW_X,
    "y": TRI_FAST_Y + TRI_SLOW_Y,
    "g": ["fast"] * 4 + ["slow"] * 4,
    "o": [0, 1, 2, 3] * 2,
})
layers.append(alt.Chart(tri_df).mark_line(color="black", strokeWidth=7.5, strokeJoin="miter",
                                           strokeCap="square")
              .encode(x=X(), y=Y(), detail="g:N", order="o:Q"))

layers.append(alt.Chart(pd.DataFrame({"x": NOTE_X, "y": NOTE_Y, "t": NOTE_TEXT}))
              .mark_text(align="left", baseline="alphabetic", font="Open Sans", fontSize=20.5,
                         color="#1a1a1a")
              .encode(x=X(), y=Y(), text="t:N"))
layers.append(alt.Chart(pd.DataFrame({"x": DENNARD_X, "y": DENNARD_Y, "t": DENNARD_TEXT}))
              .mark_text(align="left", baseline="alphabetic", font="Open Sans", fontSize=37,
                         lineBreak="\n", lineHeight=44.5, color=TEXTRED)
              .encode(x=X(), y=Y(), text="t:N"))

chart = (alt.layer(*layers)
         .properties(width=W, height=H, autosize="none",
                     padding={"left": 54, "top": 2, "right": 0, "bottom": 30},
                     background=BG)
         .configure_view(stroke=None, fill=BG))

chart.save("out.html", embed_options={"renderer": "svg", "actions": False})
